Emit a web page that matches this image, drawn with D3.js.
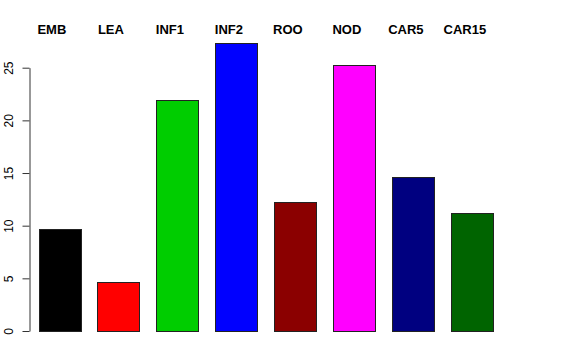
<!DOCTYPE html>
<html>
<head>
<meta charset="utf-8">
<script src="https://cdn.jsdelivr.net/npm/d3@7"></script>
<style>
  html, body { margin: 0; padding: 0; background: #fff; }
  svg { display: block; }
</style>
</head>
<body>
<svg id="chart" width="576" height="360"></svg>
<script>
const categories = ["EMB", "LEA", "INF1", "INF2", "ROO", "NOD", "CAR5", "CAR15"];
const values = [9.68, 4.68, 21.9, 27.3, 12.27, 25.25, 14.64, 11.17];
const colors = ["#000000", "#FF0000", "#00CD00", "#0000FF", "#8B0000", "#FF00FF", "#000080", "#006400"];
const yTicks = [0, 5, 10, 15, 20, 25];

const svg = d3.select("#chart");
const font = "'Liberation Sans', Arial, Helvetica, sans-serif";

const y = d3.scaleLinear().domain([0, 25]).range([331, 67.7]);
const x = d3.scaleBand().domain(categories).range([38.5, 493.3]).paddingInner(0.2915).paddingOuter(0);

// bars
svg.append("g").selectAll("rect")
  .data(categories)
  .join("rect")
  .attr("x", d => Math.round(x(d)) + 0.5)
  .attr("y", (d, i) => Math.round(y(values[i])) + 0.5)
  .attr("width", Math.round(x.bandwidth()))
  .attr("height", (d, i) => Math.round(y(0)) - Math.round(y(values[i])))
  .attr("fill", (d, i) => colors[i])
  .attr("stroke", "#222")
  .attr("stroke-width", 1);

// y axis
const axis = d3.axisLeft(y).tickValues(yTicks).tickSizeOuter(0).tickSizeInner(7).tickFormat(d3.format("d"));
const gAxis = svg.append("g").attr("transform", "translate(29.5,0)").call(axis);
gAxis.select(".domain").attr("stroke", "#333");
gAxis.selectAll(".tick line").attr("stroke", "#333");
gAxis.selectAll(".tick text")
  .attr("font-family", font)
  .attr("font-size", 12)
  .attr("fill", "#000")
  .attr("text-anchor", "middle")
  .attr("x", 0).attr("y", 0).attr("dy", 0)
  .attr("transform", "translate(-16.5,0) rotate(-90)");

// top category labels
svg.append("g").selectAll("text")
  .data(categories)
  .join("text")
  .attr("x", d => x(d) + x.bandwidth() / 2 - 7.5)
  .attr("y", 34)
  .attr("text-anchor", "middle")
  .attr("font-family", font)
  .attr("font-weight", "bold")
  .attr("font-size", 13)
  .attr("fill", "#000")
  .text(d => d);
</script>
</body>
</html>
